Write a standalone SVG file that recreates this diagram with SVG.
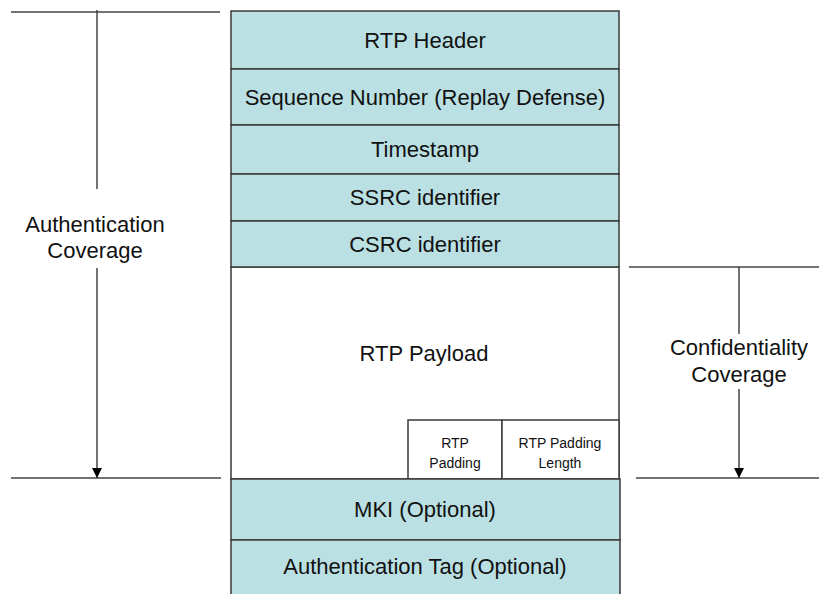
<svg xmlns="http://www.w3.org/2000/svg" width="819" height="594" viewBox="0 0 819 594">
<defs>
<style>
.cell{fill:#BAE0E3;stroke:#3a3a3a;stroke-width:1.5}
.white{fill:#ffffff;stroke:#3a3a3a;stroke-width:1.5}
.ln{stroke:#444;stroke-width:1.5;fill:none}
.t{font-family:"Liberation Sans",Arial,sans-serif;font-size:22px;fill:#111;text-anchor:middle}
.s{font-family:"Liberation Sans",Arial,sans-serif;font-size:14px;fill:#111;text-anchor:middle}
</style>
<marker id="ah" viewBox="0 0 10 10" refX="10" refY="5" markerWidth="10" markerHeight="10" markerUnits="userSpaceOnUse" orient="auto">
<path d="M0,0 L10,5 L0,10 z" fill="#000"/>
</marker>
</defs>
<g id="payload"><rect class="white" x="231" y="267" width="388" height="212"/><text class="t" x="424" y="361">RTP Payload</text></g>
<g id="rtp-header"><rect class="cell" x="231" y="11" width="388" height="58"/><text class="t" x="425" y="48">RTP Header</text></g>
<g id="sequence"><rect class="cell" x="231" y="69" width="388" height="56"/><text class="t" x="425" y="105">Sequence Number (Replay Defense)</text></g>
<g id="timestamp"><rect class="cell" x="231" y="125" width="388" height="49"/><text class="t" x="425" y="157">Timestamp</text></g>
<g id="ssrc"><rect class="cell" x="231" y="174" width="388" height="47"/><text class="t" x="425" y="205">SSRC identifier</text></g>
<g id="csrc"><rect class="cell" x="231" y="221" width="388" height="46"/><text class="t" x="425" y="252">CSRC identifier</text></g>
<g id="padding"><rect class="white" x="408" y="420" width="94" height="59"/><text class="s" x="455" y="448">RTP</text><text class="s" x="455" y="468">Padding</text></g>
<g id="padding-length"><rect class="white" x="502" y="420" width="117" height="59"/><text class="s" x="560" y="448">RTP Padding</text><text class="s" x="560" y="468">Length</text></g>
<g id="mki"><rect class="cell" x="231" y="479" width="389" height="61"/><text class="t" x="425" y="517">MKI (Optional)</text></g>
<g id="auth-tag"><rect class="cell" x="231" y="540" width="389" height="60"/><text class="t" x="425" y="574">Authentication Tag (Optional)</text></g>
<g id="connectors">
<line class="ln" x1="11" y1="12" x2="220" y2="12"/>
<line class="ln" x1="11" y1="478" x2="221" y2="478"/>
<line class="ln" x1="97" y1="10" x2="97" y2="189"/>
<line class="ln" x1="97" y1="268" x2="97" y2="478" marker-end="url(#ah)"/>
<line class="ln" x1="629" y1="267" x2="819" y2="267"/>
<line class="ln" x1="636" y1="478" x2="819" y2="478"/>
<line class="ln" x1="739" y1="267" x2="739" y2="334"/>
<line class="ln" x1="739" y1="389" x2="739" y2="478" marker-end="url(#ah)"/>
</g>
<g id="auth-label"><text class="t" x="95" y="232">Authentication</text><text class="t" x="95" y="258">Coverage</text></g>
<g id="conf-label"><text class="t" x="739" y="355">Confidentiality</text><text class="t" x="739" y="382">Coverage</text></g>
</svg>
